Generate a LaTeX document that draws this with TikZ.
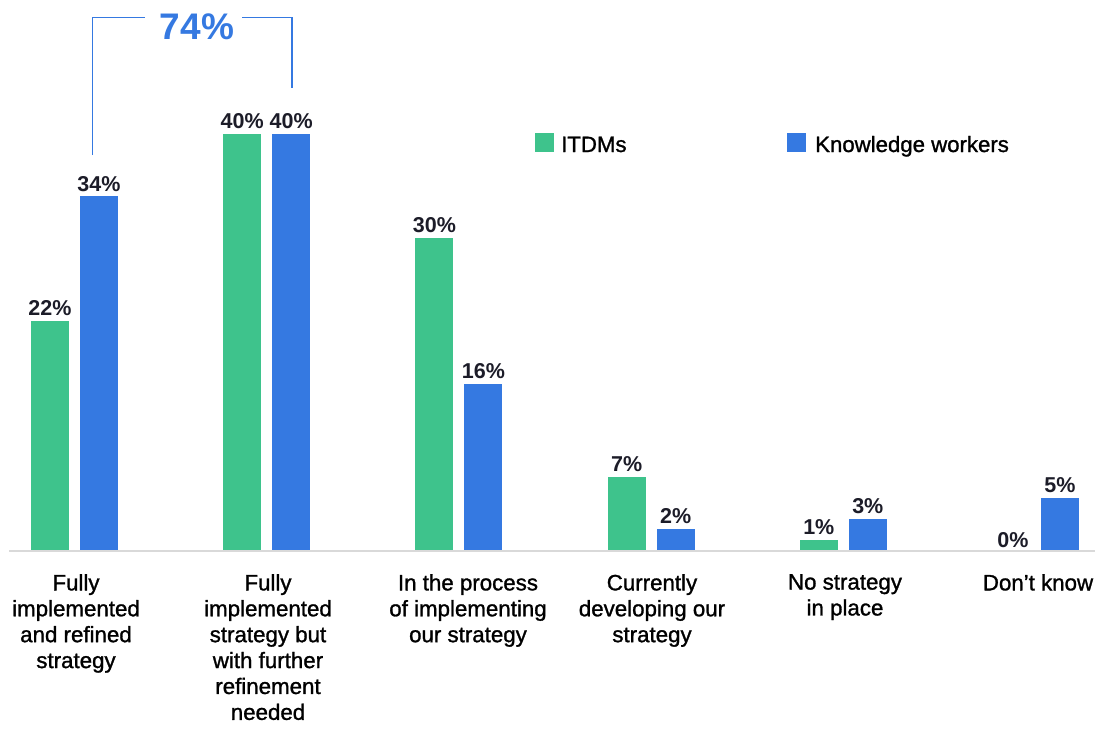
\documentclass[tikz,border=0pt]{standalone}
\usepackage{fontspec}
\setmainfont{Liberation Sans}
\newfontfamily\medsans[FakeBold=1.2]{Liberation Sans}
\definecolor{itdm}{HTML}{3EC38C}
\definecolor{kw}{HTML}{3579E1}
\definecolor{valtxt}{HTML}{1C1C28}
\definecolor{axisgray}{HTML}{D9D9D9}
\begin{document}
\begin{tikzpicture}[x=1pt,y=-1pt,
  greenbar/.style={fill=itdm},
  bluebar/.style={fill=kw},
  vallab/.style={anchor=base,inner sep=0pt,text=valtxt,font=\fontsize{21.5}{25}\selectfont\bfseries},
  catlab/.style={anchor=north,inner sep=0pt,align=center,text=black,font=\medsans\fontsize{22.3}{25.9}\selectfont},
  legtxt/.style={anchor=base west,inner sep=0pt,text=black,font=\medsans\fontsize{22.2}{26}\selectfont},
  bracket/.style={draw=kw,line width=1.1pt}
]
\useasboundingbox (0,0) rectangle (1095,734);
% axis
\draw[axisgray,line width=1.8pt] (9,551) -- (1095,551);
% bars: group i, green left = 31+192.2 i, width 38, blue left = green+49
\def\base{550}
\def\unit{10.4}
\foreach \i/\g/\b in {0/22/34,1/40/40,2/30/16,3/7/2,4/1/3,5/0/5}{
  \pgfmathsetmacro{\gx}{31+192.2*\i}
  \pgfmathsetmacro{\bx}{\gx+49}
  \pgfmathsetmacro{\gy}{\base-\unit*\g}
  \pgfmathsetmacro{\by}{\base-\unit*\b}
  \ifnum\g>0
    \fill[greenbar] (\gx,\base) rectangle ({\gx+38},\gy);
    \node[vallab] (g\i) at ({\gx+19},{\gy-5.4}) {\g\%};
  \else
    \node[vallab] (g\i) at ({\gx+21},547) {\g\%};
  \fi
  \fill[bluebar] (\bx,\base) rectangle ({\bx+38},\by);
  \node[vallab] (b\i) at ({\bx+19},{\by-5.4}) {\b\%};
}
% category labels
\node[catlab] (c0) at (76,574) {Fully\\implemented\\and refined\\strategy};
\node[catlab] (c1) at (268,574) {Fully\\implemented\\strategy but\\with further\\refinement\\needed};
\node[catlab] (c2) at (468,574) {In the process\\of implementing\\our strategy};
\node[catlab] (c3) at (652,574) {Currently\\developing our\\strategy};
\node[catlab] (c4) at (845,574) {No strategy\\in place};
\node[catlab] (c5) at (1038,574) {Don’t know};
% legend
\fill[itdm] (535,133) rectangle (554,152);
\node[legtxt] (l1) at (561,152) {ITDMs};
\fill[kw] (787,133) rectangle (806,152);
\node[legtxt] (l2) at (815,152) {Knowledge workers};
% bracket
\node[inner sep=0pt,anchor=base,text=kw,font=\fontsize{37}{40}\selectfont\bfseries] (pct) at (197,39) {74\%};
\coordinate (lb) at (92.7,155);
\coordinate (lt) at (145,17.3);
\coordinate (rt) at (242,17.3);
\coordinate (rb) at (292,88);
\draw[bracket] (lb) |- (lt);
\draw[bracket] (rt) -| (rb);
\end{tikzpicture}
\end{document}
